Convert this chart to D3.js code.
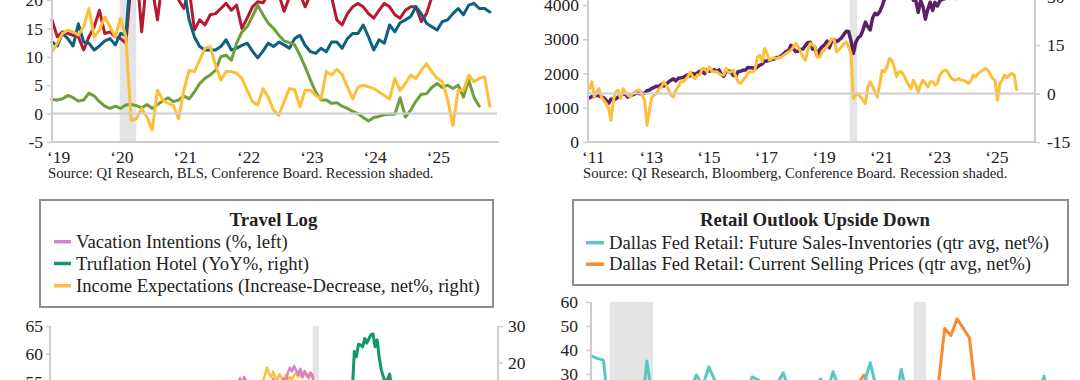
<!DOCTYPE html>
<html><head><meta charset="utf-8">
<script src="https://cdn.jsdelivr.net/npm/d3@7"></script>
<style>html,body{margin:0;padding:0;background:#fff}svg{display:block}</style>
</head><body>
<svg id="c" width="1080" height="380"></svg>
<script>
// ---------------- DATA ----------------
// Top-left panel: monthly, Jan 2019 onward
const tlStart = 2019;
const tlRed = [16.5,13.5,14.4,14.1,13.8,13.5,11.2,13.5,15.3,18.2,
  14.1,14.4,13.5,13.2,12.4,23,26,14.4,24,22,
  16.5,24,26,24,20,18.5,22,14.7,16.5,15.6,
  17.4,17.6,18.5,19.4,18.2,19.1,15,16.8,18.8,19.7,
  19.5,21,22,21,18,20.5,22,21,18.8,21,
  24,23,22,20.5,16.5,15.6,17.6,18.8,19.4,18.8,
  17.6,16.8,18.2,19.4,18.8,17.4,16.8,18.2,18.8,18.8,
  16.2,17.6,20.5,22,23,24,22.5,24,25,23.5,
  24,25,23,24];
const tlBlue = [12.6,11.9,14.1,13.2,11.9,15.8,12.6,12.4,11.2,11.9,
  12.8,13.2,12.1,14.1,13.8,26,28,30,27,25,
  21,20.5,21,24,25,22,16.5,13.5,11.8,11.2,
  11.2,11.2,11.8,13.0,11.2,11.5,12,12.4,11,9.8,
  11,12.4,11.8,12.6,12.1,11.5,13.2,13.8,12.0,10.9,
  10.6,11.5,10.9,12.6,12.6,11.5,13.2,14.1,14.1,15.6,
  13.5,11.2,13.0,12.4,15.6,14.4,16.0,16.5,17.1,18.8,
  17.6,15.9,15.3,14.7,16.2,16.5,17.6,18.5,17.4,19.1,
  19.4,18.5,18.5,17.9];
const tlGreen = [2.5,2.4,2.6,3.2,2.8,2.2,2.4,3.6,3.1,2.1,
  1.3,0.9,1.3,0.9,1.5,1.6,1.4,1.0,1.6,0.9,
  1.6,2.2,2.8,2.1,2.4,3.1,2.6,3.8,5.3,6.2,
  6.8,7.6,10,10.3,9.4,12.4,14.4,15.3,17.1,19.1,
  17.4,15.9,15,13.8,12.8,12.5,12.1,10.3,8.2,5.9,
  3.8,2.4,2.4,1.8,1.9,1.3,0.9,0.4,0,-0.7,
  -1.3,-0.7,-0.5,-0.2,-0.1,-0.1,2.8,-0.6,0.6,2.2,
  3.4,3.5,4.6,5.3,4.6,5,4.4,5,2.9,5.9,
  2.9,1.3];
const tlYellow = [10.9,12.4,14.1,14.7,14.4,13.8,15.3,18.5,13.5,14.7,
  17,15.3,13.5,16.8,13.5,-1.2,-0.9,0.9,-0.6,-2.9,
  4.1,2.4,1.8,1.5,-0.9,4.1,7.6,7.4,9.4,11.5,
  11.8,8.5,5.9,7.4,7.4,7.1,6.2,4.1,2.1,1.5,
  4.4,2.9,0.6,-0.3,2.1,4.4,4.2,1.2,4.1,4.1,
  3.2,2.6,7.4,6.8,7.8,6.9,4.7,2.6,4.6,5,
  4.7,4.4,3.8,3.2,2.6,6.2,4.1,5.3,6.8,6.2,
  7.6,8.8,7.4,6.2,5.6,2.5,-2.1,4.1,4.1,6.8,
  5.6,6.2,6.5,1.3];
const tlYears = [2019,2020,2021,2022,2023,2024,2025];
const tlYTicks = [-5,0,5,10,15,20];
const tlRecession = [2020.07, 2020.33];
const tlSource = "Source: QI Research, BLS, Conference Board. Recession shaded.";

// Top-right panel: monthly (month-end), Jan 2011 onward
const trStart = 2011;
const trPurple = [1286,1327,1326,1364,1345,1321,1292,1219,1131,1253,1247,1258,
  1312,1366,1408,1398,1310,1362,1379,1407,1441,1412,1416,1426,
  1498,1515,1569,1598,1631,1606,1686,1633,1682,1757,1806,1848,
  1783,1859,1872,1884,1924,1960,1931,2003,1972,2018,2068,2059,
  1995,2105,2068,2086,2107,2063,2104,1972,1920,2079,2080,2044,
  1940,1932,2060,2065,2097,2099,2174,2171,2168,2126,2199,2239,
  2279,2364,2363,2384,2412,2423,2470,2472,2519,2575,2648,2674,
  2824,2714,2641,2648,2705,2718,2816,2902,2914,2712,2760,2507,
  2704,2784,2834,2946,2752,2942,2980,2926,2977,3038,3141,3231,
  3226,2954,2585,2912,3044,3100,3271,3500,3363,3270,3622,3756,
  3714,3811,3973,4181,4204,4298,4395,4523,4308,4605,4567,4766,
  4516,4374,4530,4132,4132,3785,4130,3955,3586,3872,4080,3840,
  4077,3970,4109,4169,4180,4450,4589,4508,4288,4194,4568,4770,
  4846,5096,5254,5036,5278,5460,5522,5648,5762,5705,6032,5882,
  6041,5955,5612,5569,5912,6205,6339,6460,6688,6840];
const trYellow = [1.5,3.6,-1.1,0.5,1.5,-1.1,-2.1,-3.1,-4.6,-8.3,
  -2.1,0.5,1.0,-1.6,1.5,0.5,-0.5,-1.1,0,0.5,
  1.0,1.0,-0.5,-2.1,-9.8,-5.2,-1.1,-0.5,0,1.5,
  2.0,3.6,2.6,1.0,-0.5,-1.1,1.0,2.0,3.6,3.6,
  4.3,5.2,6.7,5.2,4.6,5.7,5.7,7.7,7.7,6.7,
  8.2,7.0,6.7,6.7,6.2,5.7,5.7,7.7,6.4,6.7,
  7.2,5.2,3.6,3.1,4.1,5.0,6.2,6.7,6.7,7.2,
  11.3,11.8,9.8,13.9,12.4,10.3,10.8,11.1,10.8,11.1,
  11.3,11.8,12.4,12.9,13.4,14.4,15.5,14.4,12.9,11.3,
  10.3,13.4,15.5,15.0,14.4,11.3,11.3,12.9,13.6,14.6,
  15.5,17.0,16.5,12.9,13.6,14.4,15.3,16.0,14.4,12.4,
  -1.6,-0.5,0,-1.1,-2.1,-3.1,2.0,3.6,2.2,0.5,
  -1.1,3.1,7.2,6.7,8.2,10.8,10.3,8.2,5.2,6.7,
  6.7,5.7,4.1,2.6,1.5,4.1,2.6,0.5,2.6,4.1,
  3.1,2.0,3.6,3.6,2.6,3.1,5.7,6.7,7.2,7.0,
  5.7,4.6,4.1,4.3,4.6,4.1,4.1,3.6,3.1,4.1,
  5.7,5.2,6.2,6.7,7.2,7.7,7.2,6.0,4.6,4.1,
  -2.1,3.0,4.1,5.7,4.9,5.7,6.2,5.7,1.2];
const trYears = [2011,2013,2015,2017,2019,2021,2023,2025];
const trLeftTicks = [0,1000,2000,3000,4000];
const trRightTicks = [-15,0,15,30];
const trRecession = [2020.12, 2020.38];
const trSource = "Source: QI Research, Bloomberg, Conference Board. Recession shaded.";

// Bottom-left panel: monthly, Jan 2015 onward (pink & yellow); Sep 2021 onward (green)
const blStart = 2015;
const blPink = [50,51,49,52,51,50,52,51,50,52,51,52,
  51,52,53,52,51,53,52,53,52,51,53,54,
  53,54,55.6,54.5,55.8,55,54,54.5,53.5,54,54.5,54,
  54.5,54,55,54.5,55,54,55.5,54.8,55.2,54.5,55,55.5,
  55,56.5,57.5,56.8,57.8,57,56.2,57.3,55.8,56.9,56.3,55.6,
  56.6,55.8,50,42,40,41,43,42,44,45,43,44,
  45,46,48,50,51,50,49,48,47,48,47,48,
  47,46,47,48,47,46,45,46,47,46,45,46,
  47,46,47,48,47,46,47,46,45,46,45,46,
  46,47,46,45,46,47,46,45,46,45,44,45,
  45,44,43,44,43,44,43,44,43];
const blYellow = [8,9,10,9,8,10,9,11,10,9,10,11,
  10,11,12,10,11,12,11,12,13,12,11,13,
  12,13,14,13,12,14,13,14,13,12,14,13,
  14,15,16.5,18.6,17,16,17.5,16,15.5,16.8,15.8,15.2,
  16.5,15.5,16.0,15.2,16.5,17.2,16,16.8,15.8,17.0,16.2,16.9,
  16.2,16.8,8,2,4,6,5,7,6,8,7,9,
  10,9,11,12,10,11,12,13,12,11,12,13,
  12,11,10,9,8,7,8,9,8,7,6,8,
  9,8,10,9,8,10,11,10,9,8,9,10,
  11,10,9,10,11,12,11,10,11,12,13,12,
  11,10,8,7,9,8,7,8,7];
const blGreenStart = 2021 + 8/12;
const blGreen = [12,23,21.6,25,24.8,24.3,26.6,25.3,26.5,27.6,27.8,24.3,26.2,21.2,18,16,
  14.5,15.5,16.8,13,11,10,9,8,7,8,6,5,6,4,5,3,4,2,3,1,2,0,1,-1,0,2,1,-1,0,-2,-1,-3,-2,-1];
const blLeftTicks = [55,60,65];
const blRightTicks = [20,30];
const blRecession = [2020.08, 2020.33];
const blTitle = "Travel Log";
const blLegend = ["Vacation Intentions (%, left)", "Truflation Hotel (YoY%, right)",
  "Income Expectations (Increase-Decrease, net%, right)"];

// Bottom-right panel: quarterly, 2007Q1 onward
const brStart = 2007;
const brCyan = [37.6,36.5,35.8,12, 5,-5,-8,-20, 10,35.4,18,22, 20,24,18,22,
  24,29.6,25,33, 27,22,20,18, 20,22,28.8,27.5, 22,24,26,30.5, 22,18,15,20,
  24,27.9,22,31, 24,20,18,22, 26,34.7,24,20, 22,18,32,20, 5,-30,-5,10,
  20,25,15,18, 10,5,-5,-2, 0,-5,2,5, 8,10,12,15, 20,29.2,15];
const brOrange = [15,18,12,20, 22,24,15,-10, -15,-12,-8,-5, 0,2,5,6, 15,20,14,10,
  12,10,8,9, 8,10,9,11, 12,14,12,10, 5,8,6,5, 4,8,10,12, 15,18,20,26,
  29.6,24,22,18, 15,14,12,10, 8,-15,0,10, 26,49,46,53, 49,45,22,15,
  12,10,8,6, 8,10,9,7, 12,15,10];
const brLeftTicks = [30,40,50,60];
const brRecessions = [[2007.75, 2009.5], [2020.0, 2020.5]];
const brTitle = "Retail Outlook Upside Down";
const brLegend = ["Dallas Fed Retail: Future Sales-Inventories (qtr avg, net%)",
  "Dallas Fed Retail: Current Selling Prices (qtr avg, net%)"];

// ---------------- STYLE ----------------
const FONT = "'Liberation Serif','Times New Roman',serif";
const TXT = "#222";
const AX = "#cdcdcd";
const SHADE = "#e3e4e6";
const C = {red:"#b41a30", blue:"#0f5f80", green:"#6f9e3c", yellow:"#fdbf38",
  purple:"#5a2068", pink:"#d682c6", teal:"#12976f", cyan:"#55c8c5", orange:"#f98a2d"};

const svg = d3.select("#c");
svg.append("rect").attr("width",1080).attr("height",380).attr("fill","#fff");

function drawLine(g, xs, ys, tArr, vals, color, w) {
  const pts = vals.map((v,i)=>[tArr[i], v]);
  g.append("path").datum(pts)
    .attr("fill","none").attr("stroke",color).attr("stroke-width",w)
    .attr("stroke-linejoin","round").attr("stroke-linecap","round")
    .attr("d", d3.line().x(d=>xs(d[0])).y(d=>ys(d[1])));
}
function styleAxis(g, size) {
  g.attr("font-family",null).attr("font-size",null);
  g.select(".domain").remove();
  g.selectAll(".tick line").attr("stroke",AX).attr("stroke-width",1.5);
  g.selectAll(".tick text").attr("fill",TXT).attr("font-family",FONT).attr("font-size",size);
}
function vline(x,y1,y2){svg.append("line").attr("x1",x).attr("x2",x).attr("y1",y1).attr("y2",y2).attr("stroke",AX).attr("stroke-width",2);}
function hline(y,x1,x2){svg.append("line").attr("x1",x1).attr("x2",x2).attr("y1",y).attr("y2",y).attr("stroke",AX).attr("stroke-width",2);}
function txt(x,y,s,size,anchor,weight){
  return svg.append("text").attr("x",x).attr("y",y).attr("dy","0.33em").text(s)
    .attr("font-family",FONT).attr("font-size",size).attr("fill",TXT)
    .attr("text-anchor",anchor||"start").attr("font-weight",weight||"normal");
}
const fmt = d => String(d);
const yr = d => "\u2018" + String(d).slice(2);

// ---------------- TOP-LEFT ----------------
{
  const x = d3.scaleLinear().domain([2019, 2026]).range([52, 495.1]);
  const y = d3.scaleLinear().domain([-5, 20]).range([142, 0]);
  const g = svg.append("g");
  g.append("rect").attr("x",x(tlRecession[0])).attr("width",x(tlRecession[1])-x(tlRecession[0]))
    .attr("y",-5).attr("height",y(-5)+5).attr("fill",SHADE);
  hline(y(0), 52, 497);
  const ax = svg.append("g").attr("transform","translate(52,0)")
    .call(d3.axisLeft(y).tickValues(tlYTicks).tickFormat(fmt).tickSize(5).tickPadding(4));
  styleAxis(ax, 17.5);
  vline(52, -5, 143); hline(142, 51, 499);
  const t = tlRed.map((_,i)=>tlStart + i/12);
  drawLine(g, x, y, t, tlRed, C.red, 3);
  drawLine(g, x, y, t, tlBlue, C.blue, 3);
  drawLine(g, x, y, t, tlGreen, C.green, 3);
  drawLine(g, x, y, t, tlYellow, C.yellow, 3);
  tlYears.forEach(Y => txt(x(Y)-5, 157, yr(Y), 17.5));
  txt(48, 173, tlSource, 14.7);
}

// ---------------- TOP-RIGHT ----------------
{
  const x = d3.scaleLinear().domain([2011, 2026]).range([587, 1019]);
  const yL = d3.scaleLinear().domain([0, 4000]).range([142, 5]);
  const yR = d3.scaleLinear().domain([-15, 30]).range([142, -3.5]);
  const g = svg.append("g");
  g.append("rect").attr("x",x(trRecession[0])).attr("width",x(trRecession[1])-x(trRecession[0]))
    .attr("y",-5).attr("height",147).attr("fill",SHADE);
  hline(yR(0), 588, 1035);
  const axL = svg.append("g").attr("transform","translate(588,0)")
    .call(d3.axisLeft(yL).tickValues(trLeftTicks).tickFormat(fmt).tickSize(5).tickPadding(4));
  styleAxis(axL, 17.5);
  const axR = svg.append("g").attr("transform","translate(1035,0)")
    .call(d3.axisRight(yR).tickValues(trRightTicks).tickFormat(fmt).tickSize(5).tickPadding(7));
  styleAxis(axR, 17.5);
  vline(588, -5, 143); vline(1035, -5, 143); hline(142, 587, 1036);
  const tP = trPurple.map((_,i)=>trStart + (i+1)/12);
  const tY = trYellow.map((_,i)=>trStart + (i+1)/12);
  drawLine(g, x, yL, tP, trPurple, C.purple, 3.5);
  drawLine(g, x, yR, tY, trYellow, C.yellow, 3);
  trYears.forEach(Y => txt(x(Y)-5, 157, yr(Y), 17.5));
  txt(583, 173, trSource, 14.7);
}

// ---------------- BOTTOM-LEFT ----------------
{
  svg.append("rect").attr("x",40).attr("y",200).attr("width",453).attr("height",107)
    .attr("fill","#fff").attr("stroke","#8e8e8e").attr("stroke-width",2);
  txt(273.5, 220, blTitle, 18.8, "middle", "bold");
  const cols = [C.pink, C.teal, C.yellow];
  const rows = [241.7, 263.5, 285.7];
  blLegend.forEach((s,i)=>{
    svg.append("line").attr("x1",54).attr("x2",71).attr("y1",rows[i]).attr("y2",rows[i])
      .attr("stroke",cols[i]).attr("stroke-width",3.5);
    txt(76, rows[i], s, 18.7);
  });
  const x = d3.scaleLinear().domain([2009.55, 2027.55]).range([50, 499]);
  const yL = d3.scaleLinear().domain([55, 65]).range([381.5, 326]);
  const yR = d3.scaleLinear().domain([20, 30]).range([362.5, 326]);
  const g = svg.append("g");
  g.append("rect").attr("x",x(blRecession[0])).attr("width",x(blRecession[1])-x(blRecession[0]))
    .attr("y",326).attr("height",80).attr("fill",SHADE);
  const axL = svg.append("g").attr("transform","translate(50,0)")
    .call(d3.axisLeft(yL).tickValues(blLeftTicks).tickFormat(fmt).tickSize(4).tickPadding(3));
  styleAxis(axL, 17.5);
  const axR = svg.append("g").attr("transform","translate(498,0)")
    .call(d3.axisRight(yR).tickValues(blRightTicks).tickFormat(fmt).tickSize(5).tickPadding(5));
  styleAxis(axR, 17.5);
  vline(50, 326, 400); vline(498, 326, 400);
  const t = blPink.map((_,i)=>blStart + i/12);
  const tg = blGreen.map((_,i)=>blGreenStart + i/12);
  drawLine(g, x, yR, t, blYellow, C.yellow, 2.5);
  drawLine(g, x, yL, t, blPink, C.pink, 2.5);
  drawLine(g, x, yR, tg, blGreen, C.teal, 3);
}

// ---------------- BOTTOM-RIGHT ----------------
{
  svg.append("rect").attr("x",573).attr("y",200).attr("width",495).attr("height",85)
    .attr("fill","#fff").attr("stroke","#8e8e8e").attr("stroke-width",2);
  txt(815, 220, brTitle, 18.8, "middle", "bold");
  const cols = [C.cyan, C.orange];
  const rows = [242.7, 264.2];
  brLegend.forEach((s,i)=>{
    svg.append("line").attr("x1",586).attr("x2",604).attr("y1",rows[i]).attr("y2",rows[i])
      .attr("stroke",cols[i]).attr("stroke-width",3.5);
    txt(609, rows[i], s, 18.7);
  });
  const x = d3.scaleLinear().domain([2007, 2026]).range([591, 591 + 19*24.82]);
  const y = d3.scaleLinear().domain([0, 60]).range([446, 302]);
  const g = svg.append("g");
  brRecessions.forEach(r => g.append("rect").attr("x",x(r[0])).attr("width",x(r[1])-x(r[0]))
    .attr("y",302).attr("height",100).attr("fill",SHADE));
  const ax = svg.append("g").attr("transform","translate(591,0)")
    .call(d3.axisLeft(y).tickValues(brLeftTicks).tickFormat(fmt).tickSize(5).tickPadding(8));
  styleAxis(ax, 17.5);
  vline(591, 302, 400);
  const t = brCyan.map((_,i)=>brStart + i/4);
  drawLine(g, x, y, t, brOrange, C.orange, 3);
  drawLine(g, x, y, t, brCyan, C.cyan, 3);
}
</script>
</body></html>
